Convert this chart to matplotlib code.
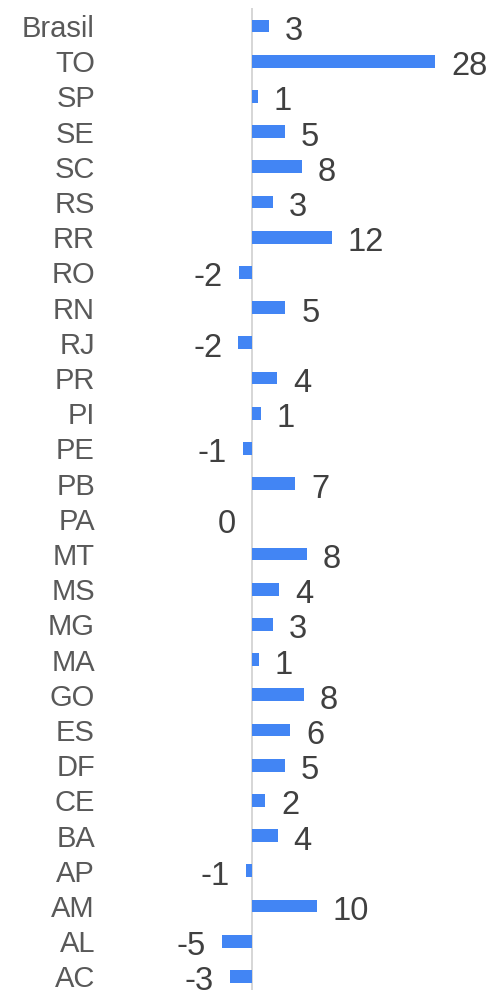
import matplotlib
matplotlib.use("Agg")
import matplotlib.pyplot as plt

categories = ["Brasil", "TO", "SP", "SE", "SC", "RS", "RR", "RO", "RN", "RJ",
              "PR", "PI", "PE", "PB", "PA", "MT", "MS", "MG", "MA", "GO",
              "ES", "DF", "CE", "BA", "AP", "AM", "AL", "AC"]
values = [2.6, 28.0, 0.9, 5.0, 7.6, 3.2, 12.2, -2.0, 5.1, -2.1,
          3.8, 1.3, -1.4, 6.6, 0.0, 8.4, 4.2, 3.2, 1.0, 7.9,
          5.8, 5.0, 2.0, 3.9, -0.9, 9.9, -4.6, -3.4]

plt.rcParams['font.family'] = ['Liberation Sans', 'DejaVu Sans']

W, H = 487, 990
fig = plt.figure(figsize=(W / 100, H / 100), dpi=100)
left_px = 117
band = 35.2
top_px = 26 - band / 2
ax_h = band * len(categories)
ax = fig.add_axes([left_px / W, (H - top_px - ax_h) / H, (W - left_px) / W, ax_h / H])

scale = 6.54  # px per unit
zero_px = 252
xmin = -(zero_px - left_px) / scale
xmax = (W - zero_px) / scale
ax.set_xlim(xmin, xmax)

ypos = list(range(len(categories)))
ax.barh(ypos, values, height=0.36, color="#4285F4", zorder=2)
ax.set_ylim(len(categories) - 0.5, -0.5)
ax.axvline(0, color="#d0d0d0", lw=1.2, zorder=1)

ax.set_yticks(ypos)
ax.set_yticklabels(categories, fontsize=21, color="#595959", va="center_baseline")
ax.tick_params(axis="y", length=0, pad=22 * 0.72)
ax.set_xticks([])
for s in ax.spines.values():
    s.set_visible(False)

for y, v in zip(ypos, values):
    label = f"{round(v):d}"
    if v > 0:
        ax.annotate(label, (v, y), xytext=(16, -2), textcoords="offset pixels",
                    ha="left", va="center_baseline", fontsize=23.5, color="#404040")
    else:
        ax.annotate(label, (v, y), xytext=(-16, -2), textcoords="offset pixels",
                    ha="right", va="center_baseline", fontsize=23.5, color="#404040")

fig.savefig("out.png", dpi=100)
